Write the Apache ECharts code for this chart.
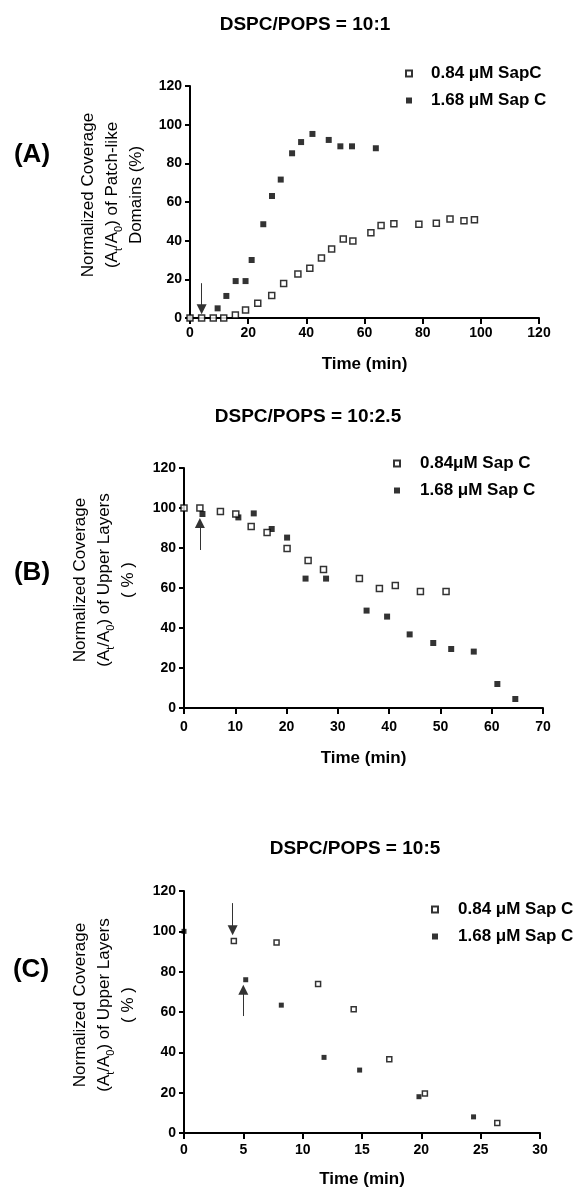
<!DOCTYPE html>
<html>
<head>
<meta charset="utf-8">
<script src="https://cdn.jsdelivr.net/npm/echarts@6/dist/echarts.min.js"></script>
<style>
  html, body { margin: 0; padding: 0; background: #fff; }
  #chart { width: 587px; height: 1191px; }
</style>
</head>
<body>
<div id="chart"></div>
<script>
// --- data ---
// (A) DSPC/POPS = 10:1
const timeA_low = [0, 4, 8, 11.6, 15.6, 19.1, 23.3, 28.1, 32.2, 37.1, 41.2, 45.2, 48.7, 52.7, 56, 62.2, 65.7, 70.1, 78.7, 84.7, 89.4, 94.2, 97.8];
const covA_low = [0, 0, 0, 0, 1.6, 4.1, 7.6, 11.7, 17.8, 22.8, 25.7, 31, 35.7, 40.9, 39.8, 44.1, 47.8, 48.8, 48.5, 49, 51.2, 50.3, 50.8];
const timeA_high = [0, 9.5, 12.5, 15.7, 19.1, 21.2, 25.2, 28.2, 31.2, 35.1, 38.2, 42.1, 47.7, 51.7, 55.7, 63.9];
const covA_high = [0, 5, 11.4, 19.1, 19.1, 30, 48.5, 63.1, 71.6, 85.2, 91, 95.2, 92.1, 88.8, 88.8, 87.8];
const arrowA = [[4, 18], [4, 4.5]];

// (B) DSPC/POPS = 10:2.5
const timeB_low = [0, 3.1, 7.1, 10.1, 13.1, 16.2, 20.1, 24.2, 27.2, 34.2, 38.1, 41.2, 46.1, 51.1];
const covB_low = [100, 100, 98.2, 97, 90.7, 87.7, 79.7, 73.8, 69.2, 64.7, 59.8, 61.3, 58.2, 58.2];
const timeB_high = [3.6, 10.6, 13.6, 17.1, 20.1, 23.7, 27.7, 35.6, 39.6, 44, 48.6, 52.1, 56.5, 61.1, 64.6];
const covB_high = [97, 95.3, 97.3, 89.5, 85.2, 64.7, 64.7, 48.7, 45.7, 36.8, 32.5, 29.5, 28.2, 12, 4.5];
const arrowB = [[3.1, 79], [3.1, 92.5]];

// (C) DSPC/POPS = 10:5
const timeC_low = [4.2, 7.8, 11.3, 14.3, 17.3, 20.3, 26.4];
const covC_low = [95.2, 94.5, 73.9, 61.4, 36.6, 19.6, 5];
const timeC_high = [0, 5.2, 8.2, 11.8, 14.8, 19.8, 24.4];
const covC_high = [100, 76, 63.4, 37.5, 31.2, 18, 8];
const arrowC_low = [[4.1, 114], [4.1, 100.5]];
const arrowC_high = [[5, 58], [5, 71]];

const titles = ['DSPC/POPS = 10:1', 'DSPC/POPS = 10:2.5', 'DSPC/POPS = 10:5'];
const legendA = ['0.84 \u03bcM SapC', '1.68 \u03bcM Sap C'];
const legendB = ['0.84\u03bcM Sap C', '1.68 \u03bcM Sap C'];
const legendC = ['0.84 \u03bcM Sap C', '1.68 \u03bcM Sap C'];

const zip = (xs, ys) => xs.map((x, i) => [x, ys[i]]);

const FONT = '"Liberation Sans", Arial, Helvetica, sans-serif';
const openStyle = { color: '#fff', borderColor: '#000', borderWidth: 1.5 };
const fillStyle = { color: '#000' };

// thin grey shaft, black filled head
function arrowLine(pts) {
    return {
        silent: true,
        symbol: ['none', 'triangle'],
        symbolSize: [10, 10],
        itemStyle: { color: '#000' },
        lineStyle: { color: '#333', width: 1, type: 'solid' },
        label: { show: false },
        emphasis: { disabled: true },
        data: [[{ coord: pts[0] }, { coord: pts[1] }]]
    };
}

function xAxis(idx, max, interval, gap, margin) {
    return {
        gridIndex: idx,
        type: 'value',
        min: 0, max: max, interval: interval,
        name: 'Time (min)',
        nameLocation: 'middle',
        nameGap: gap,
        nameTextStyle: { color: '#000', fontWeight: 'bold', fontSize: 17, fontFamily: FONT },
        axisLine: { lineStyle: { color: '#000', width: 2 } },
        axisTick: { show: true, length: 6, lineStyle: { color: '#000', width: 2 } },
        axisLabel: { color: '#000', fontWeight: 'bold', fontSize: 14, margin: margin, fontFamily: FONT },
        splitLine: { show: false }
    };
}

function yAxis(idx) {
    return {
        gridIndex: idx,
        type: 'value',
        min: 0, max: 120, interval: 20,
        axisLine: { show: true, lineStyle: { color: '#000', width: 2 } },
        axisTick: { show: true, length: 5, lineStyle: { color: '#000', width: 2 } },
        axisLabel: { color: '#000', fontWeight: 'bold', fontSize: 14, margin: 8, fontFamily: FONT },
        splitLine: { show: false }
    };
}

// rotated, three-line y axis titles with subscripts
const richY = {
    n: { fontSize: 17, fontFamily: FONT, color: '#000', lineHeight: 24 },
    s: { fontSize: 11, fontFamily: FONT, color: '#000', verticalAlign: 'bottom' }
};
function yTitle(x, y, third, second) {
    return {
        type: 'text',
        x: x, y: y,
        rotation: Math.PI / 2,
        silent: true,
        style: {
            text: '{n|Normalized Coverage}\n{n|(A}{s|t}{n|/A}{s|0}{n|) of ' + second + '}\n{n|' + third + '}',
            rich: richY,
            align: 'center',
            verticalAlign: 'middle'
        }
    };
}
function panelLabel(x, y, txt) {
    return {
        type: 'text', x: x, y: y, silent: true,
        style: { text: txt, fontSize: 26, fontWeight: 'bold', fontFamily: FONT, fill: '#000', align: 'center', verticalAlign: 'middle' }
    };
}

function legend(names, left, top, pad) {
    return {
        data: names,
        orient: 'vertical',
        left: left, top: top,
        itemWidth: 6, itemHeight: 6,
        itemGap: 10,
        selectedMode: false,
        textStyle: { color: '#000', fontWeight: 'bold', fontSize: 17, fontFamily: FONT, padding: [0, 0, 0, pad] }
    };
}

const option = {
    animation: false,
    backgroundColor: '#fff',
    textStyle: { fontFamily: FONT },
    title: [
        { text: titles[0], left: 300, top: 10, textAlign: 'center', textStyle: { fontSize: 19, fontWeight: 'bold', color: '#000', fontFamily: FONT } },
        { text: titles[1], left: 303, top: 402, textAlign: 'center', textStyle: { fontSize: 19, fontWeight: 'bold', color: '#000', fontFamily: FONT } },
        { text: titles[2], left: 350, top: 834, textAlign: 'center', textStyle: { fontSize: 19, fontWeight: 'bold', color: '#000', fontFamily: FONT } }
    ],
    legend: [
        legend(legendA, 400, 60, 14),
        legend(legendB, 388, 450, 15),
        legend(legendC, 426, 896, 15)
    ],
    grid: [
        { left: 190, top: 86, width: 349, height: 232 },
        { left: 184, top: 468, width: 359, height: 240 },
        { left: 184, top: 891, width: 356, height: 242 }
    ],
    xAxis: [xAxis(0, 120, 20, 38, 8), xAxis(1, 70, 10, 42, 12), xAxis(2, 30, 5, 38, 10)],
    yAxis: [yAxis(0), yAxis(1), yAxis(2)],
    graphic: [
        panelLabel(32, 155, '(A)'),
        panelLabel(32, 573, '(B)'),
        panelLabel(31, 970, '(C)'),
        yTitle(112, 195, 'Domains (%)', 'Patch-like'),
        yTitle(104, 580, '( % )', 'Upper Layers'),
        yTitle(104, 1005, '( % )', 'Upper Layers')
    ],
    series: [
        { name: legendA[1], type: 'scatter', xAxisIndex: 0, yAxisIndex: 0, symbol: 'rect', symbolSize: 6, itemStyle: fillStyle, data: zip(timeA_high, covA_high), markLine: arrowLine(arrowA) },
        { name: legendA[0], type: 'scatter', xAxisIndex: 0, yAxisIndex: 0, symbol: 'rect', symbolSize: 6, itemStyle: openStyle, data: zip(timeA_low, covA_low) },
        { name: legendB[1], type: 'scatter', xAxisIndex: 1, yAxisIndex: 1, symbol: 'rect', symbolSize: 6, itemStyle: fillStyle, data: zip(timeB_high, covB_high), markLine: arrowLine(arrowB) },
        { name: legendB[0], type: 'scatter', xAxisIndex: 1, yAxisIndex: 1, symbol: 'rect', symbolSize: 6, itemStyle: openStyle, data: zip(timeB_low, covB_low) },
        { name: legendC[1], type: 'scatter', xAxisIndex: 2, yAxisIndex: 2, symbol: 'rect', symbolSize: 5, itemStyle: fillStyle, data: zip(timeC_high, covC_high), markLine: arrowLine(arrowC_high) },
        { name: legendC[0], type: 'scatter', xAxisIndex: 2, yAxisIndex: 2, symbol: 'rect', symbolSize: 5, itemStyle: openStyle, data: zip(timeC_low, covC_low), markLine: arrowLine(arrowC_low) }
    ]
};

const chart = echarts.init(document.getElementById('chart'), null, { renderer: 'canvas' });
chart.setOption(option);
window.addEventListener('resize', () => chart.resize());
</script>
</body>
</html>
